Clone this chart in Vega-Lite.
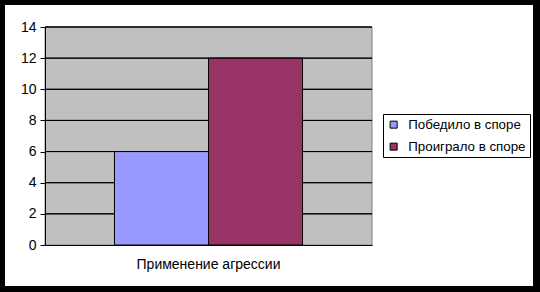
{
  "$schema": "https://vega.github.io/schema/vega-lite/v6.json",
  "width": 528,
  "height": 281,
  "autosize": {"type": "none"},
  "padding": {"left": 5, "top": 5, "right": 7, "bottom": 6},
  "background": "black",
  "config": {
    "view": {"fill": "white", "stroke": null},
    "font": "Liberation Sans"
  },
  "datasets": {
    "bars": [
      {"cat": "Применение агрессии", "series": "Победило в споре", "value": 6},
      {"cat": "Применение агрессии", "series": "Проиграло в споре", "value": 12}
    ],
    "bg": [{"cat": "Применение агрессии"}],
    "grid": [
      {"cat": "Применение агрессии", "g": 2},
      {"cat": "Применение агрессии", "g": 4},
      {"cat": "Применение агрессии", "g": 6},
      {"cat": "Применение агрессии", "g": 8},
      {"cat": "Применение агрессии", "g": 10},
      {"cat": "Применение агрессии", "g": 12},
      {"cat": "Применение агрессии", "g": 14}
    ]
  },
  "layer": [
    {
      "data": {"name": "bg"},
      "mark": {"type": "rect", "fill": "#C0C0C0", "stroke": "#808080", "strokeWidth": 1},
      "encoding": {
        "x": {
          "field": "cat", "type": "nominal",
          "scale": {"range": [40, 367], "paddingInner": 0, "paddingOuter": 0},
          "axis": {
            "title": null, "labelAngle": 0, "ticks": false, "domainColor": "black",
            "labelPadding": 12, "labelFontSize": 14, "labelColor": "black",
            "offset": -41, "zindex": 1
          }
        },
        "y": {
          "datum": 0, "type": "quantitative",
          "scale": {"domain": [0, 14], "range": [240, 22], "nice": false},
          "axis": {
            "title": null, "grid": false, "values": [0, 2, 4, 6, 8, 10, 12, 14],
            "domainColor": "black", "tickColor": "black", "tickSize": 5,
            "labelPadding": 4, "labelFontSize": 14, "labelColor": "black",
            "offset": -40, "zindex": 1
          }
        },
        "y2": {"datum": 14}
      }
    },
    {
      "data": {"name": "grid"},
      "mark": {"type": "rect", "fill": null, "stroke": "black", "strokeWidth": 1},
      "encoding": {
        "x": {"field": "cat", "type": "nominal"},
        "y": {"field": "g", "type": "quantitative"},
        "y2": {"field": "g"}
      }
    },
    {
      "data": {"name": "bars"},
      "mark": {"type": "bar", "stroke": "black", "strokeWidth": 1},
      "encoding": {
        "x": {"field": "cat", "type": "nominal"},
        "xOffset": {
          "field": "series", "type": "nominal",
          "scale": {"paddingInner": 0, "paddingOuter": 0.739}
        },
        "y": {"field": "value", "type": "quantitative"},
        "color": {
          "field": "series", "type": "nominal",
          "scale": {"domain": ["Победило в споре", "Проиграло в споре"], "range": ["#9999FF", "#993366"]},
          "legend": {
            "title": null, "orient": "none", "legendX": 378, "legendY": 109,
            "fillColor": "white", "strokeColor": "black", "padding": 4,
            "symbolType": "square", "symbolSize": 49, "symbolStrokeColor": "black",
            "symbolStrokeWidth": 1, "labelFontSize": 13.3, "labelColor": "black",
            "labelOffset": 8, "rowPadding": 8
          }
        }
      }
    }
  ]
}
